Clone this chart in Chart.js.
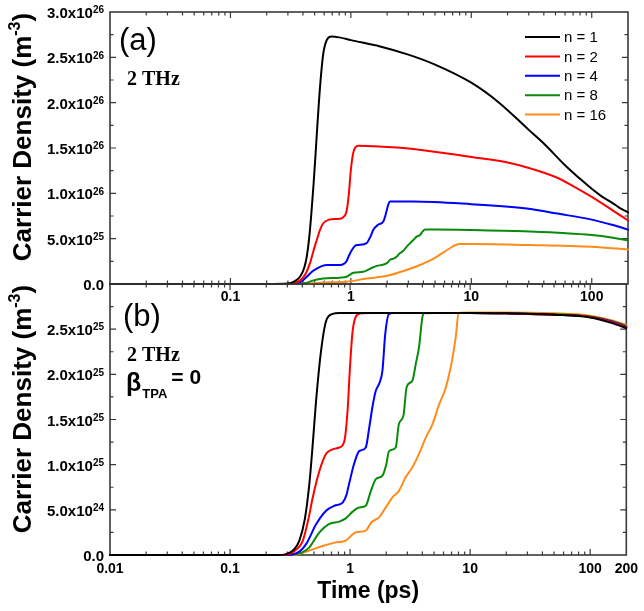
<!DOCTYPE html>
<html><head><meta charset="utf-8">
<script src="https://cdn.jsdelivr.net/npm/chart.js@4.4.1/dist/chart.umd.min.js"></script>
<style>
html,body{margin:0;padding:0;background:#fff;}
#wrap{position:relative;width:644px;height:611px;background:#fff;}
canvas{position:absolute;left:0;top:0;}
</style></head><body>
<div id="wrap"><canvas id="ca" width="644" height="611"></canvas><canvas id="cb" width="644" height="611"></canvas></div>
<script>
// ---------- data ----------
const seriesLabels = ['n = 1', 'n = 2', 'n = 4', 'n = 8', 'n = 16'];
const seriesColors = ['#000000', '#ff0000', '#0000ff', '#0a8a0a', '#ff8c1a'];

const xMajorVals = [0.01, 0.1, 1, 10, 100, 200];
const xLabelsA = ['', '0.1', '1', '10', '100', ''];
const xLabelsB = ['0.01', '0.1', '1', '10', '100', '200'];

const yTicksA = [0, 5e25, 1e26, 1.5e26, 2e26, 2.5e26, 3e26];
const yLabelsA = ['0.0', '5.0x10^25', '1.0x10^26', '1.5x10^26', '2.0x10^26', '2.5x10^26', '3.0x10^26'];
const yTicksB = [0, 5e24, 1e25, 1.5e25, 2e25, 2.5e25, 3e25];
const yLabelsB = ['0.0', '5.0x10^24', '1.0x10^25', '1.5x10^25', '2.0x10^25', '2.5x10^25', ''];

// panel (a)
const a_t1 = [0.01, 0.2, 0.3, 0.34, 0.378, 0.41, 0.43, 0.45, 0.47, 0.49, 0.51, 0.53, 0.555, 0.59, 0.63, 0.69, 0.8, 1, 1.75, 3, 5, 10, 17, 30, 40, 60, 80, 100, 120, 150, 170, 200];
const a_v1 = [0, 0, 0.005e26, 0.03e26, 0.08e26, 0.18e26, 0.3e26, 0.5e26, 0.78e26, 1.1e26, 1.45e26, 1.8e26, 2.18e26, 2.54e26, 2.69e26, 2.73e26, 2.72e26, 2.69e26, 2.62e26, 2.53e26, 2.42e26, 2.22e26, 2.0e26, 1.70e26, 1.55e26, 1.31e26, 1.16e26, 1.05e26, 0.97e26, 0.89e26, 0.84e26, 0.79e26];
const a_t2 = [0.01, 0.3, 0.34, 0.38, 0.42, 0.458, 0.49, 0.521, 0.555, 0.59, 0.66, 0.81, 0.87, 0.92, 0.96, 1.0, 1.04, 1.08, 1.15, 1.5, 3.3, 10, 20, 30, 50, 70, 100, 150, 200];
const a_v2 = [0, 0, 0.01e26, 0.04e26, 0.11e26, 0.23e26, 0.37e26, 0.485e26, 0.6e26, 0.67e26, 0.71e26, 0.72e26, 0.74e26, 0.8e26, 0.98e26, 1.26e26, 1.43e26, 1.5e26, 1.525e26, 1.52e26, 1.49e26, 1.40e26, 1.34e26, 1.28e26, 1.18e26, 1.08e26, 0.96e26, 0.81e26, 0.70e26];
const a_t4 = [0.01, 0.3, 0.38, 0.43, 0.48, 0.521, 0.58, 0.631, 0.81, 0.88, 0.92, 0.97, 1.02, 1.08, 1.15, 1.35, 1.45, 1.54, 1.67, 1.86, 1.93, 1.99, 2.05, 2.11, 3.3, 10, 30, 50, 100, 150, 200];
const a_v4 = [0, 0, 0.02e26, 0.08e26, 0.14e26, 0.17e26, 0.2e26, 0.21e26, 0.21e26, 0.225e26, 0.25e26, 0.32e26, 0.375e26, 0.42e26, 0.43e26, 0.45e26, 0.52e26, 0.6e26, 0.65e26, 0.69e26, 0.75e26, 0.82e26, 0.88e26, 0.91e26, 0.91e26, 0.88e26, 0.83e26, 0.78e26, 0.71e26, 0.65e26, 0.6e26];
const a_t8 = [0.01, 0.35, 0.42, 0.49, 0.59, 0.81, 0.92, 1.0, 1.05, 1.27, 1.45, 1.64, 1.8, 1.99, 2.13, 2.26, 2.4, 2.55, 2.7, 2.9, 3.1, 3.3, 3.5, 3.75, 3.95, 4.13, 5, 10, 30, 100, 150, 200];
const a_v8 = [0, 0, 0.01e26, 0.04e26, 0.06e26, 0.07e26, 0.08e26, 0.11e26, 0.125e26, 0.135e26, 0.17e26, 0.2e26, 0.21e26, 0.23e26, 0.27e26, 0.28e26, 0.3e26, 0.34e26, 0.36e26, 0.41e26, 0.45e26, 0.485e26, 0.52e26, 0.54e26, 0.58e26, 0.6e26, 0.6e26, 0.595e26, 0.58e26, 0.54e26, 0.51e26, 0.48e26];
const a_t16 = [0.01, 0.4, 0.555, 0.92, 1.35, 1.99, 2.9, 3.75, 4.86, 6.29, 8.0, 10, 30, 100, 200];
const a_v16 = [0, 0, 0.015e26, 0.025e26, 0.06e26, 0.09e26, 0.155e26, 0.21e26, 0.28e26, 0.375e26, 0.44e26, 0.44e26, 0.43e26, 0.41e26, 0.38e26];

// panel (b)
const b_t1 = [0.01, 0.25, 0.294, 0.34, 0.378, 0.42, 0.458, 0.49, 0.521, 0.573, 0.631, 0.716, 0.81, 1, 3, 10, 20, 50, 100, 150, 200];
const b_v1 = [0, 0, 0.1e24, 0.6e24, 1.6e24, 4.0e24, 7.9e24, 12.5e24, 17.1e24, 22.6e24, 25.9e24, 26.7e24, 26.8e24, 26.8e24, 26.8e24, 26.8e24, 26.75e24, 26.6e24, 26.3e24, 25.7e24, 25.1e24];
const b_t2 = [0.01, 0.28, 0.34, 0.404, 0.45, 0.489, 0.555, 0.631, 0.716, 0.813, 0.895, 0.953, 0.998, 1.05, 1.13, 1.23, 1.5, 3, 10, 20, 50, 100, 150, 200];
const b_v2 = [0, 0, 0.4e24, 1.6e24, 4.0e24, 6.4e24, 9.3e24, 11.2e24, 11.7e24, 11.9e24, 12.6e24, 16.0e24, 20.8e24, 24.8e24, 26.5e24, 26.75e24, 26.8e24, 26.8e24, 26.8e24, 26.75e24, 26.6e24, 26.35e24, 25.8e24, 25.2e24];
const b_t4 = [0.01, 0.3, 0.38, 0.43, 0.521, 0.631, 0.74, 0.867, 0.93, 0.98, 1.08, 1.19, 1.35, 1.44, 1.54, 1.64, 1.75, 1.86, 1.96, 2.11, 2.3, 3, 10, 20, 50, 100, 150, 200];
const b_v4 = [0, 0, 0.4e24, 1.2e24, 3.4e24, 4.9e24, 5.45e24, 5.8e24, 6.6e24, 7.85e24, 10.1e24, 11.5e24, 11.9e24, 14.0e24, 16.5e24, 18.2e24, 19.0e24, 20.4e24, 24.4e24, 26.7e24, 26.8e24, 26.8e24, 26.8e24, 26.75e24, 26.6e24, 26.35e24, 25.85e24, 25.25e24];
const b_t8 = [0.01, 0.32, 0.4, 0.458, 0.555, 0.66, 0.813, 0.92, 1.05, 1.19, 1.35, 1.49, 1.64, 1.86, 2.0, 2.11, 2.4, 2.55, 2.78, 2.96, 3.3, 3.52, 3.75, 4.0, 4.13, 5, 10, 20, 50, 100, 150, 200];
const b_v8 = [0, 0, 0.3e24, 0.85e24, 2.5e24, 3.4e24, 3.7e24, 4.06e24, 4.8e24, 5.25e24, 5.45e24, 7.1e24, 8.4e24, 8.8e24, 10.0e24, 11.5e24, 11.9e24, 14.5e24, 15.4e24, 18.6e24, 19.3e24, 21.1e24, 23.0e24, 26.3e24, 26.75e24, 26.8e24, 26.8e24, 26.75e24, 26.65e24, 26.4e24, 25.9e24, 25.35e24];
const b_t16 = [0.01, 0.34, 0.458, 0.59, 0.76, 0.92, 1.11, 1.35, 1.5, 1.75, 1.99, 2.26, 2.55, 2.9, 3.3, 3.75, 4.27, 4.86, 5.53, 6.29, 7.15, 7.63, 8.0, 10, 20, 50, 100, 150, 200];
const b_v16 = [0, 0, 0.5e24, 1.0e24, 1.4e24, 1.6e24, 2.5e24, 2.7e24, 3.6e24, 4.2e24, 5.3e24, 6.4e24, 7.1e24, 8.6e24, 9.7e24, 11.2e24, 13.0e24, 14.5e24, 16.7e24, 18.6e24, 21.9e24, 24.4e24, 26.8e24, 26.85e24, 26.85e24, 26.75e24, 26.5e24, 26.0e24, 25.5e24];

const timesA = [a_t1, a_t2, a_t4, a_t8, a_t16];
const valsA = [a_v1, a_v2, a_v4, a_v8, a_v16];
const timesB = [b_t1, b_t2, b_t4, b_t8, b_t16];
const valsB = [b_v1, b_v2, b_v4, b_v8, b_v16];

// ---------- rendering ----------
const FONT = "'Liberation Sans', Arial, sans-serif";
const SERIF = "'Liberation Serif', 'Times New Roman', serif";
const FRAME = '#3a3a3a';

const xTickVals = [];
for (let k = -2; k <= 2; k++) for (let d = 1; d <= 9; d++) { const v = d * Math.pow(10, k); if (v <= 200.0001) xTickVals.push(v); }

function xLabel(v, labels) {
  for (let i = 0; i < xMajorVals.length; i++) if (Math.abs(v / xMajorVals[i] - 1) < 1e-9) return labels[i];
  return '';
}

function makeDatasets(times, vals) {
  return times.map((t, i) => ({
    label: seriesLabels[i],
    data: t.map((x, j) => ({x: x, y: vals[i][j]})),
    borderColor: seriesColors[i], backgroundColor: seriesColors[i],
    borderWidth: 2, pointRadius: 0, fill: false,
    cubicInterpolationMode: 'monotone', clip: 4
  }));
}

function frameTicks(chart, yTicks) {
  const {ctx, chartArea: a, scales: {x, y}} = chart;
  ctx.save();
  ctx.strokeStyle = FRAME;
  ctx.lineWidth = 1.2;
  ctx.beginPath();
  x.ticks.forEach(t => {
    const v = t.value, px = x.getPixelForValue(v);
    if (px < a.left + 1 || px > a.right - 1) return;
    const major = Math.abs(Math.log10(v) - Math.round(Math.log10(v))) < 1e-9;
    const L = major ? 6 : 3.5;
    ctx.moveTo(px, a.bottom); ctx.lineTo(px, a.bottom - L);
    ctx.moveTo(px, a.top); ctx.lineTo(px, a.top + L);
  });
  for (let i = 0; i < yTicks.length; i++) {
    const py = y.getPixelForValue(yTicks[i]);
    if (py > a.top + 1 && py < a.bottom - 1) {
      ctx.moveTo(a.left, py); ctx.lineTo(a.left + 6, py);
      ctx.moveTo(a.right, py); ctx.lineTo(a.right - 6, py);
    }
    if (i < yTicks.length - 1) {
      const pm = y.getPixelForValue((yTicks[i] + yTicks[i + 1]) / 2);
      ctx.moveTo(a.left, pm); ctx.lineTo(a.left + 3.5, pm);
      ctx.moveTo(a.right, pm); ctx.lineTo(a.right - 3.5, pm);
    }
  }
  ctx.stroke();
  ctx.lineWidth = 1.6;
  ctx.strokeRect(a.left, a.top, a.right - a.left, a.bottom - a.top);
  ctx.restore();
}

function drawYLabels(chart, vals, labels) {
  const {ctx, scales: {y}} = chart;
  ctx.save(); ctx.fillStyle = '#000'; ctx.textBaseline = 'alphabetic'; ctx.textAlign = 'left';
  vals.forEach((v, i) => {
    const lab = labels[i]; if (!lab) return;
    const parts = lab.split('^'); const base = parts[0], exp = parts[1] || '';
    const py = y.getPixelForValue(v);
    ctx.font = 'bold 15px ' + FONT; const wb = ctx.measureText(base).width;
    let we = 0;
    if (exp) { ctx.font = 'bold 10px ' + FONT; we = ctx.measureText(exp).width; }
    const x0 = 104 - wb - we;
    ctx.font = 'bold 15px ' + FONT; ctx.fillText(base, x0, py + 6);
    if (exp) { ctx.font = 'bold 10px ' + FONT; ctx.fillText(exp, x0 + wb, py + 1.3); }
  });
  ctx.restore();
}

function drawYTitle(chart, cy) {
  const ctx = chart.ctx;
  ctx.save(); ctx.fillStyle = '#000'; ctx.translate(30.5, cy); ctx.rotate(-Math.PI / 2);
  ctx.textBaseline = 'alphabetic'; ctx.textAlign = 'left';
  const main = 'Carrier Density (m', sup = '-3', end = ')';
  ctx.font = 'bold 26px ' + FONT; const w1 = ctx.measureText(main).width, w3 = ctx.measureText(end).width;
  ctx.font = 'bold 16px ' + FONT; const w2 = ctx.measureText(sup).width;
  let x = -(w1 + w2 + w3) / 2;
  ctx.font = 'bold 26px ' + FONT; ctx.fillText(main, x, 0); x += w1;
  ctx.font = 'bold 16px ' + FONT; ctx.fillText(sup, x, -11); x += w2;
  ctx.font = 'bold 26px ' + FONT; ctx.fillText(end, x, 0);
  ctx.restore();
}

function makeOptions(cfg) {
  return {
    responsive: false, animation: false, devicePixelRatio: 1,
    layout: {padding: {left: 0, right: 16, top: cfg.top, bottom: cfg.bottom}},
    plugins: {legend: {display: false}, tooltip: {enabled: false}},
    elements: {line: {borderJoinStyle: 'round', borderCapStyle: 'round'}},
    scales: {
      x: {
        type: 'logarithmic', min: 0.01, max: 200, position: 'bottom',
        grid: {display: false, drawTicks: false}, border: {display: false},
        afterBuildTicks: s => { s.ticks = xTickVals.map(v => ({value: v})); },
        afterFit: s => { s.height = cfg.xh; },
        ticks: {
          autoSkip: false, maxRotation: 0, minRotation: 0, padding: cfg.xpad, color: '#000',
          font: {family: FONT, size: 14, weight: 'bold'},
          callback: v => xLabel(v, cfg.xLabels)
        },
        title: cfg.xTitle
      },
      y: {
        type: 'linear', min: 0, max: cfg.ymax,
        grid: {display: false, drawTicks: false}, border: {display: false},
        afterBuildTicks: s => { s.ticks = cfg.yTicks.map(v => ({value: v})); },
        afterFit: s => { s.width = 110; },
        ticks: {display: false}
      }
    }
  };
}

const pluginA = {
  id: 'panelA',
  beforeDatasetsDraw(chart) { frameTicks(chart, yTicksA); },
  afterDraw(chart) {
    const ctx = chart.ctx;
    drawYLabels(chart, yTicksA, yLabelsA);
    drawYTitle(chart, 137);
    ctx.save(); ctx.fillStyle = '#000'; ctx.textBaseline = 'alphabetic'; ctx.textAlign = 'left';
    ctx.font = '31px ' + FONT; ctx.fillText('(a)', 119, 49.5);
    ctx.font = 'bold 20px ' + SERIF; ctx.fillText('2 THz', 127, 85);
    chart.data.datasets.forEach((ds, i) => {
      const yy = 37 + i * 19.4;
      ctx.strokeStyle = ds.borderColor; ctx.lineWidth = 2;
      ctx.beginPath(); ctx.moveTo(525, yy); ctx.lineTo(560, yy); ctx.stroke();
      ctx.fillStyle = '#000'; ctx.font = '15px ' + FONT; ctx.textBaseline = 'middle';
      ctx.fillText(ds.label, 564, yy + 1);
    });
    ctx.restore();
  }
};

const pluginB = {
  id: 'panelB',
  beforeDatasetsDraw(chart) { frameTicks(chart, yTicksB); },
  afterDraw(chart) {
    const ctx = chart.ctx;
    drawYLabels(chart, yTicksB, yLabelsB);
    drawYTitle(chart, 409);
    ctx.save(); ctx.fillStyle = '#000'; ctx.textBaseline = 'alphabetic'; ctx.textAlign = 'left';
    ctx.font = '31px ' + FONT; ctx.fillText('(b)', 123, 326);
    ctx.font = 'bold 20px ' + SERIF; ctx.fillText('2 THz', 127, 361);
    ctx.font = 'bold 25px ' + FONT; ctx.fillText('\u03B2', 126, 391);
    const wb = ctx.measureText('\u03B2').width;
    ctx.font = 'bold 13px ' + FONT; ctx.fillText('TPA', 126 + wb + 1, 398);
    const wt = ctx.measureText('TPA').width;
    ctx.font = 'bold 21px ' + FONT; ctx.fillText('= 0', 126 + wb + wt + 5, 383.5);
    ctx.restore();
  }
};

new Chart(document.getElementById('ca'), {
  type: 'line',
  data: {datasets: makeDatasets(timesA, valsA)},
  options: makeOptions({top: 12, bottom: 307, xh: 20, xpad: 5, xLabels: xLabelsA, ymax: 3e26, yTicks: yTicksA, xTitle: {display: false}}),
  plugins: [pluginA]
});

new Chart(document.getElementById('cb'), {
  type: 'line',
  data: {datasets: makeDatasets(timesB, valsB)},
  options: makeOptions({top: 284, bottom: 0, xh: 56, xpad: 6, xLabels: xLabelsB, ymax: 3e25, yTicks: yTicksB,
    xTitle: {display: true, text: 'Time (ps)', color: '#000', font: {family: FONT, size: 23, weight: 'bold'}, padding: {top: 0, bottom: 6}}}),
  plugins: [pluginB]
});
</script>
</body></html>
